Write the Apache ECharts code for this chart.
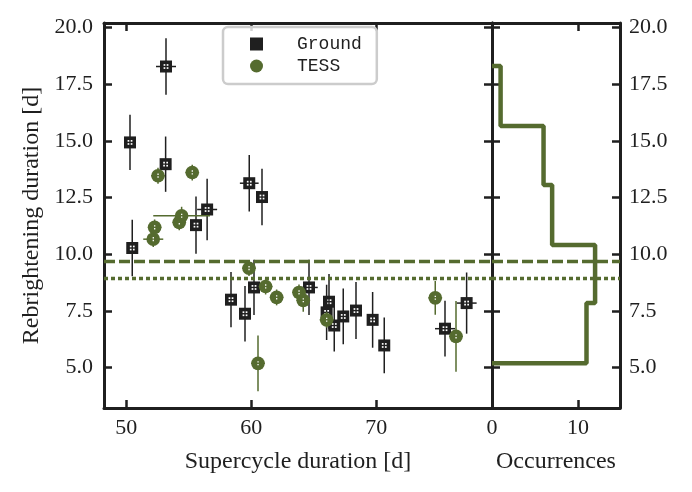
<!DOCTYPE html>
<html>
<head>
<meta charset="utf-8">
<script src="https://cdn.jsdelivr.net/npm/echarts@6/dist/echarts.min.js"></script>
<style>
  html, body { margin: 0; padding: 0; background: #fff; }
  #chart-container { width: 692px; height: 492px; }
</style>
</head>
<body>
<div id="chart-container"></div>
<script>
// ground-based points
const groundX = [50.48, 50.30, 53.18, 53.15, 55.58, 56.47, 58.38, 59.50, 59.84, 60.22, 60.86,
                 64.62, 66.22, 66.03, 66.64, 67.36, 68.38, 69.71, 70.64, 75.50, 77.23];
const groundY = [10.27, 14.93, 18.28, 13.97, 11.28, 11.97, 7.99, 7.37, 13.13, 8.53, 12.52,
                 8.53, 7.90, 7.43, 6.85, 7.25, 7.51, 7.10, 5.97, 6.71, 7.84];
const groundXErr = [0, 0, 0.8, 0, 0, 0.8, 0, 0, 0.75, 0, 0,
                    0.7, 0, 0, 0, 0, 0, 0, 0, 0.8, 0.8];
const groundYErr = [1.25, 1.22, 1.25, 1.22, 1.26, 1.36, 1.22, 1.22, 1.25, 1.22, 1.25,
                    1.22, 1.22, 1.22, 1.15, 1.23, 1.26, 1.23, 1.23, 1.23, 1.35];

// TESS points
const tessX = [52.16, 52.27, 52.54, 54.24, 54.43, 55.28, 59.82, 60.54, 61.15, 62.03, 63.82,
               64.16, 66.03, 74.72, 76.38];
const tessY = [10.66, 11.18, 13.46, 11.40, 11.69, 13.60, 9.38, 5.18, 8.57, 8.09, 8.31,
               7.96, 7.10, 8.07, 6.37];
const tessXErr = [0.8, 0.55, 0.55, 0.55, 2.27, 0.55, 0.55, 0.55, 0.55, 0.55, 0.55,
                  0.55, 0.55, 0.55, 0.55];
const tessYErr = [0.35, 0.35, 0.35, 0.35, 0.4, 0.35, 0.35, 1.23, 0.35, 0.35, 0.35,
                  0.5, 0.35, 0.75, 1.56];

// histogram of durations (step outline)
const histEdges = [5.19, 7.84, 10.40, 13.05, 15.66, 18.30];
const histCounts = [11, 12, 7, 6, 1];

const meanDuration = 9.68;
const medianDuration = 8.94;

const xTicks = [50, 60, 70];
const yTicks = [5, 7.5, 10, 12.5, 15, 17.5, 20];
const histTicks = [0, 10];

const BLACK = '#1f1f1f';
const GREEN = '#556b2f';
const SERIF = '"Liberation Serif", "DejaVu Serif", serif';

let dom = document.getElementById('chart-container');
let myChart = echarts.init(dom, null, { renderer: 'canvas' });

function zip(xs, ys, exs, eys) {
    return xs.map(function(x, i) { return [x, ys[i], exs[i], eys[i]]; });
}

let stepData = [[0, histEdges[0]]];
histCounts.forEach(function(c, i) {
    stepData.push([c, histEdges[i]]);
    stepData.push([c, histEdges[i + 1]]);
});
stepData.push([0, histEdges[histEdges.length - 1]]);

function errorBars(api, color, lw) {
    const x = api.value(0), y = api.value(1), ex = api.value(2), ey = api.value(3);
    let out = [];
    if (ey > 0) {
        const a = api.coord([x, y - ey]), b = api.coord([x, y + ey]);
        out.push({ type: 'line', shape: { x1: a[0], y1: a[1], x2: b[0], y2: b[1] },
                   style: { stroke: color, lineWidth: lw } });
    }
    if (ex > 0) {
        const a = api.coord([x - ex, y]), b = api.coord([x + ex, y]);
        out.push({ type: 'line', shape: { x1: a[0], y1: a[1], x2: b[0], y2: b[1] },
                   style: { stroke: color, lineWidth: lw } });
    }
    return out;
}

function renderGround(params, api) {
    const c = api.coord([api.value(0), api.value(1)]);
    let kids = errorBars(api, BLACK, 1.5);
    kids.push({ type: 'rect', shape: { x: c[0] - 6, y: c[1] - 6, width: 12, height: 12 },
                style: { fill: BLACK } });
    [[-2.4, -2.4], [0.7, -2.4], [-2.4, 0.7], [0.7, 0.7]].forEach(function(o) {
        kids.push({ type: 'rect', shape: { x: c[0] + o[0], y: c[1] + o[1], width: 1.7, height: 1.7 },
                    style: { fill: '#fff' } });
    });
    return { type: 'group', children: kids };
}

function renderTess(params, api) {
    const c = api.coord([api.value(0), api.value(1)]);
    let kids = errorBars(api, GREEN, 1.5);
    kids.push({ type: 'circle', shape: { cx: c[0], cy: c[1], r: 6.8 }, style: { fill: GREEN } });
    [[-0.6, -2.2], [-0.6, 0.6]].forEach(function(o) {
        kids.push({ type: 'rect', shape: { x: c[0] + o[0], y: c[1] + o[1], width: 1.3, height: 1.4 },
                    style: { fill: '#fff' } });
    });
    return { type: 'group', children: kids };
}

function refLines() {
    return {
        silent: true,
        symbol: ['none', 'none'],
        label: { show: false },
        lineStyle: { color: GREEN, width: 3.4, opacity: 1 },
        emphasis: { disabled: true },
        data: [
            { yAxis: meanDuration, lineStyle: { color: GREEN, width: 3.4, type: [11, 4] } },
            { yAxis: medianDuration, lineStyle: { color: GREEN, width: 3.4, type: [4, 3] } }
        ]
    };
}

const lineAxis = { show: true, onZero: false, lineStyle: { color: BLACK, width: 3 } };
function tick(vals) {
    return { inside: true, length: 8, customValues: vals, lineStyle: { color: BLACK, width: 2.5 } };
}
function lab(vals, fmt, margin) {
    return { show: true, customValues: vals, formatter: fmt, color: BLACK,
             fontFamily: SERIF, fontSize: 22, margin: margin };
}
const noLab = { show: false };
const nameStyle = { color: BLACK, fontFamily: SERIF, fontSize: 24 };

let option = {
    animation: false,
    backgroundColor: '#fff',
    grid: [
        { left: 104, top: 23, width: 388, height: 385 },
        { left: 492, top: 23, width: 128, height: 385 }
    ],
    legend: {
        left: 223,
        top: 27,
        orient: 'vertical',
        itemWidth: 13,
        itemHeight: 13,
        itemGap: 4,
        padding: [8, 15, 9, 27],
        borderColor: '#cccccc',
        borderWidth: 2.5,
        borderRadius: 5,
        backgroundColor: 'rgba(255,255,255,0.8)',
        textStyle: { fontFamily: '"Liberation Mono", "DejaVu Sans Mono", monospace',
                     fontSize: 18, lineHeight: 18, color: BLACK, padding: [0, 0, 0, 29] },
        data: [
            { name: 'Ground', icon: 'rect', itemStyle: { color: BLACK } },
            { name: 'TESS', icon: 'circle', itemStyle: { color: GREEN } }
        ]
    },
    xAxis: [
        { gridIndex: 0, type: 'value', position: 'bottom', min: 48.22, max: 79.26,
          axisLine: lineAxis, axisTick: tick(xTicks), axisLabel: lab(xTicks, function(v) { return String(v); }, 9),
          splitLine: { show: false },
          name: 'Supercycle duration [d]', nameLocation: 'middle', nameGap: 42, nameTextStyle: nameStyle },
        { gridIndex: 0, type: 'value', position: 'top', min: 48.22, max: 79.26,
          axisLine: lineAxis, axisTick: tick(xTicks), axisLabel: noLab, splitLine: { show: false } },
        { gridIndex: 1, type: 'value', position: 'bottom', min: 0, max: 14.9,
          axisLine: lineAxis, axisTick: tick(histTicks), axisLabel: lab(histTicks, function(v) { return String(v); }, 9),
          splitLine: { show: false },
          name: 'Occurrences', nameLocation: 'middle', nameGap: 42, nameTextStyle: nameStyle },
        { gridIndex: 1, type: 'value', position: 'top', min: 0, max: 14.9,
          axisLine: lineAxis, axisTick: tick(histTicks), axisLabel: noLab, splitLine: { show: false } }
    ],
    yAxis: [
        { gridIndex: 0, type: 'value', position: 'left', min: 3.21, max: 20.2,
          axisLine: lineAxis, axisTick: tick(yTicks), axisLabel: lab(yTicks, function(v) { return v.toFixed(1); }, 11),
          splitLine: { show: false },
          name: 'Rebrightening duration [d]', nameLocation: 'middle', nameGap: 60, nameTextStyle: nameStyle },
        { gridIndex: 0, type: 'value', position: 'right', min: 3.21, max: 20.2,
          axisLine: lineAxis, axisTick: tick(yTicks), axisLabel: noLab, splitLine: { show: false } },
        { gridIndex: 1, type: 'value', position: 'left', min: 3.21, max: 20.2,
          axisLine: lineAxis, axisTick: tick(yTicks), axisLabel: noLab, splitLine: { show: false } },
        { gridIndex: 1, type: 'value', position: 'right', min: 3.21, max: 20.2,
          axisLine: lineAxis, axisTick: tick(yTicks), axisLabel: lab(yTicks, function(v) { return v.toFixed(1); }, 9),
          splitLine: { show: false } }
    ],
    series: [
        {
            name: 'Ground',
            type: 'custom',
            xAxisIndex: 0, yAxisIndex: 0,
            itemStyle: { color: BLACK },
            encode: { x: 0, y: 1 },
            data: zip(groundX, groundY, groundXErr, groundYErr),
            renderItem: renderGround,
            z: 3
        },
        {
            name: 'TESS',
            type: 'custom',
            xAxisIndex: 0, yAxisIndex: 0,
            itemStyle: { color: GREEN },
            encode: { x: 0, y: 1 },
            data: zip(tessX, tessY, tessXErr, tessYErr),
            renderItem: renderTess,
            markLine: refLines(),
            z: 4
        },
        {
            name: 'hist',
            type: 'line',
            xAxisIndex: 2, yAxisIndex: 2,
            data: stepData,
            showSymbol: false,
            symbol: 'none',
            lineStyle: { color: GREEN, width: 4.5 },
            markLine: refLines(),
            z: 2
        }
    ]
};

myChart.setOption(option);
window.addEventListener('resize', myChart.resize);
</script>
</body>
</html>
